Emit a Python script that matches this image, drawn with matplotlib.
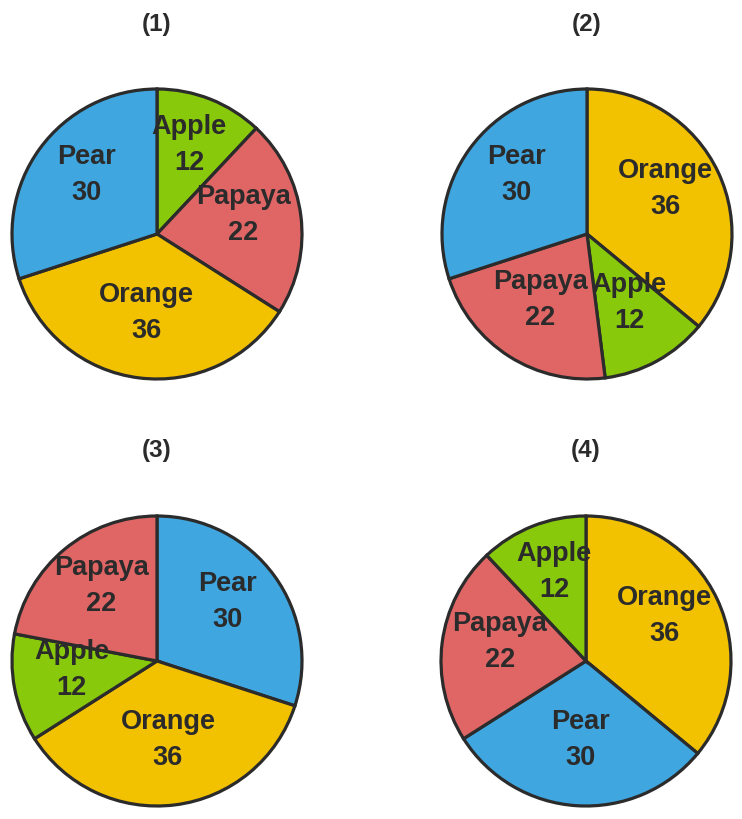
import matplotlib
matplotlib.use("Agg")
import numpy as np
import matplotlib.pyplot as plt

plt.rcParams['font.family'] = ['Liberation Sans', 'DejaVu Sans']

# fruit counts
fruits = ['Apple', 'Papaya', 'Orange', 'Pear']
counts = {'Apple': 12, 'Papaya': 22, 'Orange': 36, 'Pear': 30}
colors = {'Apple': '#88c90b', 'Papaya': '#e06666', 'Orange': '#f2c100', 'Pear': '#3fa6e0'}

# clockwise order from 12 o'clock for each pie
orders = [
    ['Apple', 'Papaya', 'Orange', 'Pear'],
    ['Orange', 'Apple', 'Papaya', 'Pear'],
    ['Pear', 'Orange', 'Apple', 'Papaya'],
    ['Orange', 'Pear', 'Papaya', 'Apple'],
]
titles = ['(1)', '(2)', '(3)', '(4)']

W, H = 742, 820
fig = plt.figure(figsize=(W / 100, H / 100), dpi=100)
fig.patch.set_facecolor('white')

# pie centres and radius in pixels
centers = [(157, 235), (587, 235), (157, 662), (586, 662)]
R = 145
edge = '#2b2b2b'

for (cx, cy), order, title in zip(centers, orders, titles):
    ax = fig.add_axes([(cx - R) / W, (H - cy - R) / H, 2 * R / W, 2 * R / H])
    vals = [counts[f] for f in order]
    labels = ['%s\n%d' % (f, counts[f]) for f in order]
    wedges, texts = ax.pie(vals, labels=labels, colors=[colors[f] for f in order],
                           startangle=90, counterclock=False, labeldistance=0.6,
                           wedgeprops=dict(edgecolor=edge, linewidth=2.3),
                           textprops=dict(fontsize=19.5, fontweight='bold', color='#2b2b2b',
                                          linespacing=1.5))
    for w in wedges:
        w.set_clip_on(False)
    for t in texts:
        t.set_horizontalalignment('center')
        t.set_verticalalignment('center')
        x, y = t.get_position()
        t.set_position((x, y + 0.06))
    ax.set_xlim(-1, 1)
    ax.set_ylim(-1, 1)
    ax.set_aspect('equal')
    ax.axis('off')
    fig.text(cx / W, 1 - (cy - 211) / H, title, ha='center', va='center',
             fontsize=17.5, fontweight='bold', color='#2b2b2b')

fig.savefig('out.png', dpi=100)
